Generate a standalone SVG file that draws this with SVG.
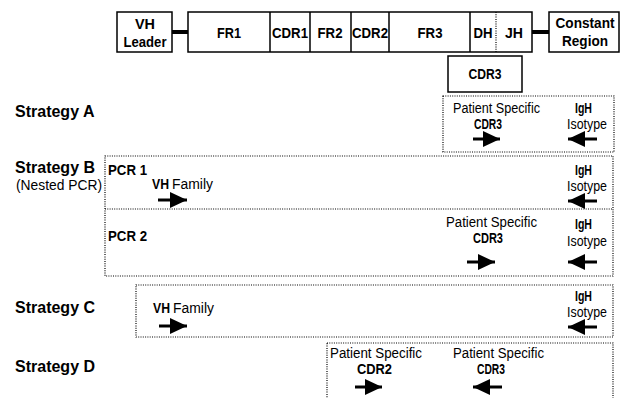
<svg xmlns="http://www.w3.org/2000/svg" width="623" height="398" viewBox="0 0 623 398">
<style>
text{font-family:"Liberation Sans",Arial,sans-serif;fill:#000}
.lab{font-weight:bold;font-size:15px}
.lb{font-weight:bold;font-size:14px}
.st{font-weight:bold;font-size:16px}
.n{font-size:14px}
.box{fill:#fff;stroke:#000;stroke-width:1.5}
.dot{fill:none;stroke:#000;stroke-width:1.2;stroke-dasharray:1 1.3}
.bar{stroke:#000;stroke-width:4}
.arr{stroke:#000;stroke-width:3}
</style>
<defs>
<marker id="ah" viewBox="0 0 17 16" refX="17" refY="8" markerWidth="17" markerHeight="16" markerUnits="userSpaceOnUse" orient="auto">
<path d="M0,0 L17,8 L0,16 Z" fill="#000"/>
</marker>
</defs>
<rect width="623" height="398" fill="#fff"/>

<g id="vh-leader">
<rect class="box" x="117" y="12" width="55" height="40"/>
<text class="lab" x="145" y="29" text-anchor="middle" textLength="20" lengthAdjust="spacingAndGlyphs">VH</text>
<text class="lab" x="145" y="47" text-anchor="middle" textLength="43" lengthAdjust="spacingAndGlyphs">Leader</text>
</g>
<g id="v-region">
<rect class="box" x="188" y="12" width="344" height="40"/>
<line x1="270" y1="12" x2="270" y2="52" stroke="#000" stroke-width="1.5"/>
<line x1="310" y1="12" x2="310" y2="52" stroke="#000" stroke-width="1.5"/>
<line x1="351" y1="12" x2="351" y2="52" stroke="#000" stroke-width="1.5"/>
<line x1="389" y1="12" x2="389" y2="52" stroke="#000" stroke-width="1.5"/>
<line x1="470" y1="12" x2="470" y2="52" stroke="#000" stroke-width="1.5"/>
<line class="dot" x1="496" y1="12" x2="496" y2="52"/>
<text class="lab" x="229" y="38" text-anchor="middle" textLength="24" lengthAdjust="spacingAndGlyphs">FR1</text>
<text class="lab" x="290" y="38" text-anchor="middle" textLength="36" lengthAdjust="spacingAndGlyphs">CDR1</text>
<text class="lab" x="330" y="38" text-anchor="middle" textLength="25" lengthAdjust="spacingAndGlyphs">FR2</text>
<text class="lab" x="370" y="38" text-anchor="middle" textLength="36" lengthAdjust="spacingAndGlyphs">CDR2</text>
<text class="lab" x="430" y="38" text-anchor="middle" textLength="25" lengthAdjust="spacingAndGlyphs">FR3</text>
<text class="lab" x="483" y="38" text-anchor="middle" textLength="19" lengthAdjust="spacingAndGlyphs">DH</text>
<text class="lab" x="514" y="38" text-anchor="middle" textLength="18" lengthAdjust="spacingAndGlyphs">JH</text>
</g>
<g id="constant-region">
<rect class="box" x="549" y="12" width="70" height="40"/>
<text class="lab" x="585" y="28" text-anchor="middle" textLength="59" lengthAdjust="spacingAndGlyphs">Constant</text>
<text class="lab" x="585" y="46" text-anchor="middle" textLength="46" lengthAdjust="spacingAndGlyphs">Region</text>
</g>
<g id="cdr3-box">
<rect class="box" x="448" y="56" width="74" height="36"/>
<text class="lab" x="485" y="79" text-anchor="middle" textLength="33" lengthAdjust="spacingAndGlyphs">CDR3</text>
</g>

<g id="strategy-a">
<text class="st" x="15" y="117">Strategy A</text>
<rect class="dot" x="443" y="96" width="171" height="56"/>
<text class="n" x="453" y="113" textLength="87" lengthAdjust="spacingAndGlyphs">Patient Specific</text>
<text class="lb" x="474" y="129" textLength="28" lengthAdjust="spacingAndGlyphs">CDR3</text>
<text class="lb" x="575" y="113" textLength="17" lengthAdjust="spacingAndGlyphs">IgH</text>
<text class="n" x="567" y="129" textLength="40" lengthAdjust="spacingAndGlyphs">Isotype</text>
</g>

<g id="strategy-b">
<text class="st" x="15" y="173">Strategy B</text>
<text class="n" x="16" y="190" textLength="86" lengthAdjust="spacingAndGlyphs">(Nested PCR)</text>
<rect class="dot" x="105" y="156" width="508" height="120"/>
<line class="dot" x1="105" y1="209" x2="613" y2="209"/>
<text class="lb" x="108" y="175" textLength="39" lengthAdjust="spacingAndGlyphs">PCR 1</text>
<text class="lb" x="152" y="189" textLength="17" lengthAdjust="spacingAndGlyphs">VH</text>
<text class="n" x="172" y="189" textLength="41" lengthAdjust="spacingAndGlyphs">Family</text>
<text class="lb" x="575" y="175" textLength="17" lengthAdjust="spacingAndGlyphs">IgH</text>
<text class="n" x="567" y="191" textLength="40" lengthAdjust="spacingAndGlyphs">Isotype</text>
<text class="lb" x="108" y="241" textLength="39" lengthAdjust="spacingAndGlyphs">PCR 2</text>
<text class="n" x="446" y="227" textLength="91" lengthAdjust="spacingAndGlyphs">Patient Specific</text>
<text class="lb" x="473" y="243" textLength="30" lengthAdjust="spacingAndGlyphs">CDR3</text>
<text class="lb" x="575" y="229" textLength="17" lengthAdjust="spacingAndGlyphs">IgH</text>
<text class="n" x="567" y="246" textLength="40" lengthAdjust="spacingAndGlyphs">Isotype</text>
</g>

<g id="strategy-c">
<text class="st" x="15" y="313">Strategy C</text>
<rect class="dot" x="136" y="285" width="477" height="52"/>
<text class="lb" x="153" y="313" textLength="17" lengthAdjust="spacingAndGlyphs">VH</text>
<text class="n" x="173" y="313" textLength="41" lengthAdjust="spacingAndGlyphs">Family</text>
<text class="lb" x="575" y="301" textLength="17" lengthAdjust="spacingAndGlyphs">IgH</text>
<text class="n" x="567" y="317" textLength="40" lengthAdjust="spacingAndGlyphs">Isotype</text>
</g>

<g id="strategy-d">
<text class="st" x="15" y="372">Strategy D</text>
<rect class="dot" x="327" y="343" width="286" height="70"/>
<text class="n" x="330" y="358" textLength="92" lengthAdjust="spacingAndGlyphs">Patient Specific</text>
<text class="lb" x="357" y="374" textLength="35" lengthAdjust="spacingAndGlyphs">CDR2</text>
<text class="n" x="453" y="358" textLength="91" lengthAdjust="spacingAndGlyphs">Patient Specific</text>
<text class="lb" x="477" y="374" textLength="28" lengthAdjust="spacingAndGlyphs">CDR3</text>
</g>

<g id="connectors">
<line class="bar" x1="172" y1="32" x2="188" y2="32"/>
<line class="bar" x1="532" y1="32" x2="549" y2="32"/>
<line class="arr" x1="473" y1="139" x2="500" y2="139" marker-end="url(#ah)"/>
<line class="arr" x1="597" y1="139" x2="568" y2="139" marker-end="url(#ah)"/>
<line class="arr" x1="158" y1="200" x2="187" y2="200" marker-end="url(#ah)"/>
<line class="arr" x1="597" y1="201" x2="568" y2="201" marker-end="url(#ah)"/>
<line class="arr" x1="467" y1="262" x2="495" y2="262" marker-end="url(#ah)"/>
<line class="arr" x1="597" y1="262" x2="568" y2="262" marker-end="url(#ah)"/>
<line class="arr" x1="159" y1="326" x2="187" y2="326" marker-end="url(#ah)"/>
<line class="arr" x1="597" y1="327" x2="568" y2="327" marker-end="url(#ah)"/>
<line class="arr" x1="355" y1="387" x2="382" y2="387" marker-end="url(#ah)"/>
<line class="arr" x1="502" y1="387" x2="473" y2="387" marker-end="url(#ah)"/>
</g>
</svg>
